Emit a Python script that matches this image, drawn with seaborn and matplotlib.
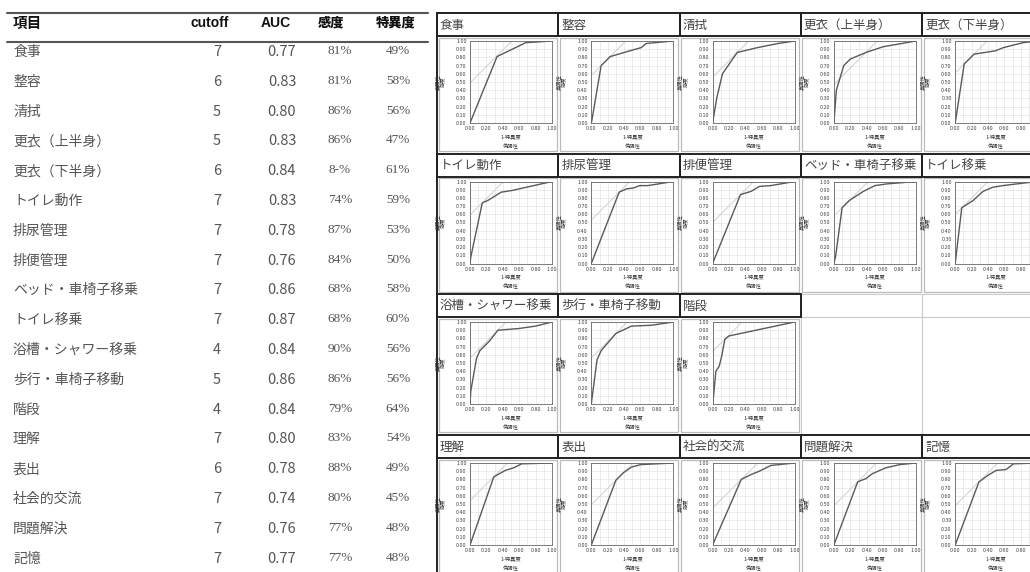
import matplotlib
matplotlib.use('Agg')
import matplotlib.pyplot as plt
from matplotlib.patches import Rectangle
import numpy as np
import pandas as pd
import seaborn as sns

sns.set_style('white')
plt.rcParams['font.family'] = ['Noto Sans CJK JP', 'DejaVu Sans']

# table data
items = ['食事', '整容', '清拭', '更衣（上半身）', '更衣（下半身）', 'トイレ動作', '排尿管理', '排便管理',
         'ベッド・車椅子移乗', 'トイレ移乗', '浴槽・シャワー移乗', '歩行・車椅子移動', '階段',
         '理解', '表出', '社会的交流', '問題解決', '記憶']
cutoffs = ['7', '6', '5', '5', '6', '7', '7', '7', '7', '7', '4', '5', '4', '7', '6', '7', '7', '7']
aucs = ['0.77', '0.83', '0.80', '0.83', '0.84', '0.83', '0.78', '0.76', '0.86', '0.87', '0.84', '0.86',
        '0.84', '0.80', '0.78', '0.74', '0.76', '0.77']
sens = ['81%', '81%', '86%', '86%', '8-%', '74%', '87%', '84%', '68%', '68%', '90%', '86%', '79%',
        '83%', '88%', '80%', '77%', '77%']
spec = ['49%', '58%', '56%', '47%', '61%', '59%', '53%', '50%', '58%', '60%', '56%', '56%', '64%',
        '54%', '49%', '45%', '48%', '48%']

# ROC curves (same order as the table)
roc_fpr = [
    [0, 0.33, 0.68, 1.0],
    [0, 0.01, 0.12, 0.23, 0.40, 0.61, 0.67, 1.0],
    [0, 0.05, 0.12, 0.30, 0.55, 0.80, 1.0],
    [0, 0.03, 0.12, 0.20, 0.39, 0.60, 1.0],
    [0, 0.11, 0.23, 0.49, 0.59, 0.83, 1.0],
    [0, 0.01, 0.15, 0.22, 0.38, 0.51, 1.0],
    [0, 0.34, 0.43, 0.51, 0.59, 0.69, 1.0],
    [0, 0.34, 0.47, 0.57, 0.71, 1.0],
    [0, 0.02, 0.10, 0.19, 0.36, 0.50, 0.64, 1.0],
    [0, 0.08, 0.22, 0.34, 0.46, 0.58, 0.83, 1.0],
    [0, 0.01, 0.08, 0.12, 0.24, 0.34, 0.59, 0.80, 1.0],
    [0, 0.01, 0.07, 0.12, 0.30, 0.49, 0.73, 1.0],
    [0, 0.01, 0.04, 0.08, 0.11, 0.15, 0.20, 1.0],
    [0, 0.29, 0.43, 0.53, 0.63, 1.0],
    [0, 0.30, 0.39, 0.49, 0.60, 1.0],
    [0, 0.35, 0.47, 0.57, 0.71, 1.0],
    [0, 0.29, 0.39, 0.47, 0.63, 0.80, 1.0],
    [0, 0.29, 0.40, 0.50, 0.62, 0.71, 1.0],
]
roc_tpr = [
    [0, 0.81, 0.98, 1.0],
    [0, 0.05, 0.70, 0.81, 0.86, 0.92, 0.97, 1.0],
    [0, 0.30, 0.60, 0.86, 0.92, 0.97, 1.0],
    [0, 0.40, 0.70, 0.78, 0.86, 0.93, 1.0],
    [0, 0.72, 0.84, 0.88, 0.92, 0.98, 1.0],
    [0, 0.08, 0.74, 0.77, 0.87, 0.89, 1.0],
    [0, 0.87, 0.91, 0.92, 0.95, 0.95, 1.0],
    [0, 0.84, 0.88, 0.94, 0.95, 1.0],
    [0, 0.08, 0.68, 0.77, 0.88, 0.95, 0.97, 1.0],
    [0, 0.68, 0.77, 0.88, 0.93, 0.95, 0.98, 1.0],
    [0, 0.16, 0.56, 0.65, 0.77, 0.90, 0.92, 0.95, 1.0],
    [0, 0.08, 0.54, 0.65, 0.86, 0.95, 0.96, 1.0],
    [0, 0.08, 0.40, 0.46, 0.58, 0.79, 0.83, 1.0],
    [0, 0.83, 0.91, 0.94, 0.99, 1.0],
    [0, 0.79, 0.88, 0.95, 0.98, 1.0],
    [0, 0.80, 0.86, 0.90, 0.97, 1.0],
    [0, 0.77, 0.81, 0.87, 0.94, 0.98, 1.0],
    [0, 0.77, 0.85, 0.91, 0.92, 0.99, 1.0],
]
# intercept of the light slope-1 tangent line
tangent_c = [0.49, 0.58, 0.56, 0.47, 0.61, 0.59, 0.53, 0.50, 0.58, 0.60, 0.56, 0.56, 0.64,
             0.54, 0.49, 0.45, 0.48, 0.48]

# grid layout: 13 panels, two empty cells, then 5 panels
panel_idx = list(range(13)) + [None, None] + list(range(13, 18))

W, H = 1030, 572
fig = plt.figure(figsize=(W / 100, H / 100), dpi=100)
fig.patch.set_facecolor('white')

bg = fig.add_axes([0, 0, 1, 1])
bg.set_xlim(0, W)
bg.set_ylim(H, 0)
bg.axis('off')


def px_axes(x, y, w, h):
    return fig.add_axes([x / W, 1 - (y + h) / H, w / W, h / H])


# ---- table ----
bg.plot([7, 428], [13, 13], color='#555555', lw=1.5)
bg.plot([7, 428], [42, 42], color='#555555', lw=1.5)
hy = 23
bg.text(13, hy, '項目', fontsize=10.5, fontweight='bold', color='#111', va='center')
bg.text(210, hy, 'cutoff', fontsize=10, fontweight='bold', color='#111', va='center', ha='center',
        family=['Liberation Sans'])
bg.text(276, hy, 'AUC', fontsize=10, fontweight='bold', color='#111', va='center', ha='center',
        family=['Liberation Sans'])
bg.text(331, hy - 1, '感度', fontsize=9.5, fontweight='heavy', color='#111', va='center', ha='center')
bg.text(396, hy - 1, '特異度', fontsize=9.5, fontweight='heavy', color='#111', va='center', ha='center')

for i in range(len(items)):
    y = 52 + i * 29.8
    bg.text(13, y, items[i], fontsize=10, color='#555', va='center')
    bg.text(217, y, cutoffs[i], fontsize=10.5, color='#555', va='center', ha='center')
    bg.text(282, y, aucs[i], fontsize=10.5, color='#555', va='center', ha='center')
    bg.text(340, y - 1, sens[i], fontsize=9.5, color='#555', va='center', ha='center',
            family=['Liberation Serif'])
    bg.text(398, y - 1, spec[i], fontsize=9.5, color='#555', va='center', ha='center',
            family=['Liberation Serif'])

# ---- ROC grid ----
col_w = 121.3
col_left = [437 + j * col_w for j in range(5)]
row_top = [13, 153.5, 294, 435]
title_h = 23
row_h = 141

for n, k in enumerate(panel_idx):
    r, j = divmod(n, 5)
    x0, y0 = col_left[j], row_top[r]
    if k is None:
        bg.add_patch(Rectangle((x0, y0), col_w, title_h, fill=False, ec='#cccccc', lw=0.8))
        bg.add_patch(Rectangle((x0, y0 + title_h), col_w, row_h - title_h, fill=False, ec='#cccccc', lw=0.8))
        continue
    bg.add_patch(Rectangle((x0 + 1.5, y0 + title_h + 1.5), col_w - 3, row_h - title_h - 4.5,
                           fill=False, ec='#bbbbbb', lw=0.9))
    bg.add_patch(Rectangle((x0, y0), col_w, title_h, fill=False, ec='#222222', lw=1.4, zorder=3))
    bg.text(x0 + 3, y0 + title_h / 2 + 0.5, items[k], fontsize=9, color='#444', va='center')

    ax = px_axes(x0 + 33, y0 + title_h + 5, 82, 82)
    df = pd.DataFrame({'fpr': roc_fpr[k], 'tpr': roc_tpr[k]})
    c = tangent_c[k]
    ax.plot([0, 1 - c], [c, 1], color='#d0d0d0', lw=0.7)
    sns.lineplot(data=df, x='fpr', y='tpr', ax=ax, color='#5a5a5a', lw=1.0, sort=False, estimator=None)
    ax.set_xlim(0, 1)
    ax.set_ylim(0, 1)
    ax.set_xticks(np.arange(0, 1.01, 0.2))
    ax.set_xticks(np.arange(0, 1.01, 0.1), minor=True)
    ax.set_yticks(np.arange(0, 1.01, 0.1))
    ax.set_xticklabels(['%.2f' % v for v in np.arange(0, 1.01, 0.2)])
    ax.set_yticklabels(['%.2f' % v for v in np.arange(0, 1.01, 0.1)])
    ax.grid(which='both', color='#dddddd', lw=0.4)
    ax.tick_params(which='both', labelsize=3.9, length=1.5, width=0.4, pad=1, colors='#444')
    for s in ax.spines.values():
        s.set_color('#666666')
        s.set_linewidth(0.6)
    ax.set_xlabel('1-特異度\n偽陽性', fontsize=3.8, labelpad=2, linespacing=2.0, color='#333')
    ax.set_ylabel('真陽性\n感度', fontsize=3.8, color='#333')
    ax.yaxis.set_label_coords(-0.30, 0.5)

# dark left edge of the grid
bg.plot([437, 437], [13, H], color='#222222', lw=1.4)

plt.savefig('out.png', dpi=100, facecolor='white')
plt.close()
